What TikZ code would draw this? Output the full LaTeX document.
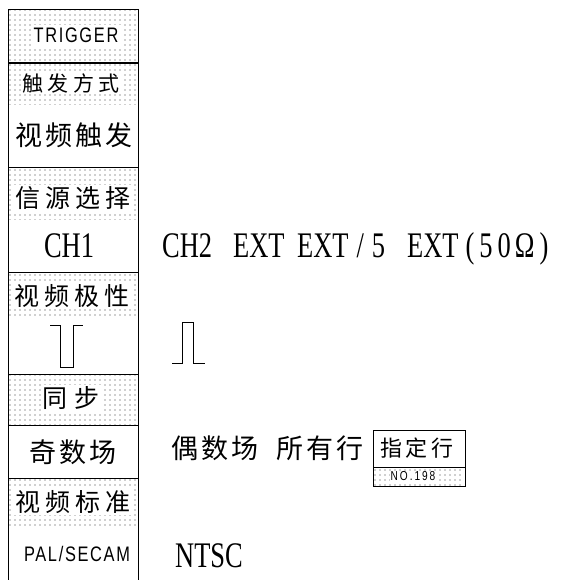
\documentclass[tikz,border=0pt]{standalone}
\usepackage{fontspec}
\setmainfont{Liberation Serif}[FakeStretch=0.735]
\setsansfont{Liberation Sans}[FakeStretch=0.78]
\newfontfamily\cjk{Noto Sans CJK SC}
\usetikzlibrary{patterns.meta}

\tikzset{
  dotfill/.style={pattern={Dots[distance=5pt,radius=0.6pt]},pattern color=black!80},
  knock/.style={fill=white,inner sep=1.5pt},
  bigcn/.style={font=\cjk\fontsize{27}{27}\selectfont\addfontfeatures{LetterSpace=12}},
  headcn/.style={font=\cjk\fontsize{25}{25}\selectfont\addfontfeatures{LetterSpace=20}},
  latin/.style={font=\fontsize{36}{36}\selectfont,inner sep=0pt,anchor=base},
  small/.style={font=\sffamily\fontsize{21}{21}\selectfont\addfontfeatures{LetterSpace=8},inner sep=0pt,anchor=base},
}

\begin{document}
\begin{tikzpicture}[x=1pt,y=-1pt]
        \useasboundingbox (0,0) rectangle (570,580);

        % Dotted title fields
        \foreach \top/\bot in {10/63,63/105,167/219,272/317,374/425,478/525}
            \fill[dotfill] (9,\top+1) rectangle (137,\bot);
        \fill[dotfill] (374,468) rectangle (464,485);

        % Left column
        \node[small,knock,inner sep=3pt] (trig) at (76,43) {TRIGGER};
        \node[headcn,knock,font=\cjk\fontsize{21}{21}\selectfont\addfontfeatures{LetterSpace=20}] (mode) at (71,83) {触发方式};
        \node[bigcn] (video) at (74,135) {视频触发};
        \node[headcn,knock] (src) at (73,198) {信源选择};
        \node[latin] (ch1) at (69,257) {CH1};
        \node[headcn,knock] (pol) at (72,296) {视频极性};
        \node[headcn,knock,font=\cjk\fontsize{25}{25}\selectfont\addfontfeatures{LetterSpace=30}] (sync) at (71,398) {同步};
        \node[bigcn] (odd) at (73,452) {奇数场};
        \node[headcn,knock] (std) at (73,502) {视频标准};
        \node[small] (pal) at (77,561) {PAL/SECAM};

        % Choices
        \node[latin,anchor=base west] (ch2) at (162,257) {CH2};
        \node[latin,anchor=base west] (ext) at (233,257) {EXT};
        \node[latin,anchor=base west] (ext5) at (297,257) {EXT\hspace{8pt}/\hspace{8pt}5};
        \node[latin,anchor=base west] (ext50) at (407,257) {EXT\hspace{7pt}(\hspace{5pt}5\hspace{5pt}0\hspace{4pt}Ω\hspace{5pt})};
        \node[bigcn,anchor=west,inner sep=0pt] (even) at (171,448) {偶数场};
        \node[bigcn,anchor=west,inner sep=0pt] (all) at (276,448) {所有行};
        \node[bigcn,font=\cjk\fontsize{22}{22}\selectfont\addfontfeatures{LetterSpace=14}] (line) at (417,448) {指定行};
        \node[font=\sffamily\fontsize{13}{13}\selectfont\addfontfeatures{LetterSpace=15},knock,inner sep=0.5pt] (num) at (413,476.5) {NO.198};
        \node[latin,anchor=base west] (ntsc) at (175,567) {NTSC};

        % Lines
        \draw[line width=1pt] (8,580) -- (8,10) -- (138,10) -- (138,580);
        \draw[line width=1.6pt] (8,63) -- (138,63);
        \foreach \y in {167,272,374,425,478}
            \draw[line width=1pt] (8,\y) -- (138,\y);
        \draw[line width=1pt] (373,430) rectangle (465,486);
        \draw[line width=1pt] (373,467) -- (465,467);

        % Pulses
        \draw[line width=1pt] (50,325) -- (60,325) -- (60,367) -- (73,367) -- (73,325) -- (83,325);
        \draw[line width=1pt] (172,363) -- (182,363) -- (182,322) -- (193,322) -- (193,363) -- (205,363);
    \end{tikzpicture}
\end{document}
